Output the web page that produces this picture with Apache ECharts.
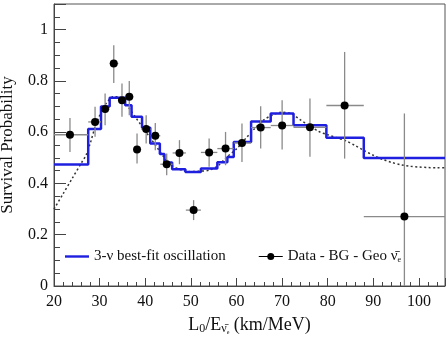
<!DOCTYPE html>
<html>
<head>
    <meta charset="utf-8">
    <title></title>
    <script src="https://cdn.jsdelivr.net/npm/echarts/dist/echarts.min.js"></script>
    <style>
        html, body { margin: 0; padding: 0; background: #fff; }
        #main { width: 448px; height: 338px; }
    </style>
</head>
<body>
<div id="main"></div>
<script type="text/javascript">
    // best-fit oscillation, binned: left edge of each bin and its level
    var fitEdges = [20, 27.5, 30.3, 32.2, 35.6, 37.0, 39.3, 41.1, 43.2, 44.2, 45.9, 48.8, 52.2, 55.8, 58.0, 59.4, 63.2, 67.5, 72.5, 79.7, 87.9, 105.7];
    var fitLevels = [0.474, 0.612, 0.700, 0.734, 0.705, 0.660, 0.617, 0.556, 0.515, 0.482, 0.455, 0.445, 0.458, 0.483, 0.503, 0.562, 0.642, 0.673, 0.627, 0.578, 0.499];

    // unbinned curve (dotted)
    var curveX = [20, 22, 24, 26, 27, 28, 29, 30, 31, 32, 33, 34, 35, 36, 37, 38, 39, 40, 41, 42, 43, 44, 45, 46, 48, 50, 52, 54, 56, 58, 60, 62, 64, 66, 68, 70, 72, 74, 76, 78, 80, 82, 84, 86, 88, 90, 92, 94, 96, 98, 100, 102, 104, 105.7];
    var curveY = [0.300, 0.360, 0.420, 0.480, 0.510, 0.560, 0.620, 0.665, 0.700, 0.725, 0.738, 0.738, 0.725, 0.705, 0.680, 0.655, 0.630, 0.605, 0.580, 0.555, 0.530, 0.505, 0.485, 0.468, 0.452, 0.446, 0.448, 0.452, 0.470, 0.505, 0.535, 0.575, 0.615, 0.648, 0.668, 0.678, 0.672, 0.648, 0.625, 0.603, 0.590, 0.578, 0.566, 0.548, 0.528, 0.510, 0.494, 0.482, 0.473, 0.467, 0.464, 0.462, 0.461, 0.461];

    // Data - BG - Geo
    var dataX = [23.5, 29.0, 31.2, 33.1, 34.9, 36.5, 38.2, 40.2, 42.2, 44.7, 47.5, 50.6, 54.0, 57.6, 61.2, 65.3, 70.0, 76.1, 83.7, 96.8];
    var dataY = [0.590, 0.640, 0.690, 0.868, 0.725, 0.738, 0.532, 0.612, 0.586, 0.475, 0.519, 0.296, 0.521, 0.536, 0.558, 0.618, 0.626, 0.619, 0.704, 0.271];
    var binLo = [20, 27.5, 30.3, 32.2, 34.1, 35.6, 37.4, 39.1, 41.2, 43.3, 46.0, 48.9, 52.2, 55.8, 59.4, 63.2, 67.5, 72.5, 79.7, 87.9];
    var binHi = [27.5, 30.3, 32.2, 34.1, 35.6, 37.4, 39.1, 41.2, 43.3, 46.0, 48.9, 52.2, 55.8, 59.4, 63.2, 67.5, 72.5, 79.7, 87.9, 106];
    var errLo = [0.523, 0.582, 0.627, 0.792, 0.660, 0.666, 0.478, 0.556, 0.530, 0.432, 0.475, 0.257, 0.465, 0.471, 0.484, 0.536, 0.532, 0.504, 0.497, 0.0];
    var errHi = [0.655, 0.699, 0.751, 0.939, 0.790, 0.800, 0.595, 0.666, 0.636, 0.517, 0.569, 0.335, 0.575, 0.601, 0.634, 0.701, 0.725, 0.731, 0.913, 0.673];

    var fitData = [];
    for (var i = 0; i < fitLevels.length; i++) {
        fitData.push([fitEdges[i], fitLevels[i]]);
    }
    fitData.push([fitEdges[fitEdges.length - 1], fitLevels[fitLevels.length - 1]]);

    var curveData = [];
    for (var i = 0; i < curveX.length; i++) {
        curveData.push([curveX[i], curveY[i]]);
    }

    var pts = [];
    var bars = [];
    for (var i = 0; i < dataX.length; i++) {
        pts.push([dataX[i], dataY[i]]);
        bars.push([dataX[i], dataY[i], binLo[i], binHi[i], errLo[i], errHi[i]]);
    }

    var serif = 'Liberation Serif';
    var chart = echarts.init(document.getElementById('main'));
    var option = {
        backgroundColor: '#fff',
        animation: false,
        grid: {
            left: 54, right: 3, top: 4, bottom: 52,
            outerBoundsMode: 'none', containLabel: false,
            show: true, borderColor: '#555', borderWidth: 1
        },
        legend: {
            left: 60, top: 244,
            itemWidth: 24, itemHeight: 8, itemGap: 33,
            data: [
                {name: 'fit', icon: 'path://M0,0M24,8M0,2.8h24v2.4h-24z'},
                {name: 'data', icon: 'path://M0,0M24,8M0,3.5h24v1h-24zM12,4m-3.5,0a3.5,3.5 0 1,1 7,0a3.5,3.5 0 1,1 -7,0z'}
            ],
            formatter: function (name) {
                return name === 'fit' ? '3-\u03bd best-fit oscillation' : 'Data - BG - Geo \u03bd\u0304{sub|e}';
            },
            textStyle: {
                fontFamily: serif, fontSize: 15, color: '#111',
                rich: {sub: {fontFamily: serif, fontSize: 8, color: '#111', verticalAlign: 'bottom', padding: [6, 0, 0, 0]}}
            }
        },
        xAxis: {
            type: 'value', min: 20, max: 105.7, interval: 10,
            name: 'L{sub|0}/E{sub|\u03bd\u0304}{subsub|e} (km/MeV)',
            nameLocation: 'middle', nameGap: 29,
            nameTextStyle: {
                fontFamily: serif, fontSize: 18, color: '#111',
                rich: {
                    sub: {fontFamily: serif, fontSize: 12, color: '#111', verticalAlign: 'bottom', padding: [8, 0, 0, 0]},
                    subsub: {fontFamily: serif, fontSize: 6, color: '#111', verticalAlign: 'bottom', padding: [12, 0, 0, 0]}
                }
            },
            axisLine: {lineStyle: {color: '#444', width: 1}},
            axisTick: {inside: true, length: 8, lineStyle: {color: '#444'}},
            minorTick: {show: true, splitNumber: 5, length: 4, lineStyle: {color: '#444'}},
            splitLine: {show: false},
            axisLabel: {
                fontFamily: serif, fontSize: 16, color: '#111', margin: 8,
                formatter: function (v) { return v > 100.5 ? '' : String(v); }
            }
        },
        yAxis: {
            type: 'value', min: 0, max: 1.1, interval: 0.2,
            name: 'Survival Probability',
            nameLocation: 'middle', nameGap: 38, nameRotate: 90,
            nameTextStyle: {fontFamily: serif, fontSize: 17, color: '#111'},
            axisLine: {show: true, lineStyle: {color: '#444', width: 1}},
            axisTick: {inside: true, length: 12, lineStyle: {color: '#444'}},
            minorTick: {show: true, splitNumber: 4, length: 6, lineStyle: {color: '#444'}},
            splitLine: {show: false},
            axisLabel: {
                fontFamily: serif, fontSize: 16, color: '#111', margin: 6,
                formatter: function (v) { return v > 1.05 ? '' : String(+v.toFixed(1)); }
            }
        },
        series: [
            {
                name: 'curve', type: 'line', data: curveData, smooth: 0.3,
                showSymbol: false, clip: true, z: 1,
                lineStyle: {color: '#333', width: 1.5, type: [2, 2.5]}
            },
            {
                name: 'fit', type: 'line', step: 'end', data: fitData,
                showSymbol: false, clip: true, z: 2,
                itemStyle: {color: '#1f1fe0'},
                lineStyle: {color: '#1f1fe0', width: 2.5}
            },
            {
                name: 'errs', type: 'custom', data: bars, clip: true, z: 3,
                encode: {x: 0, y: 1},
                renderItem: function (params, api) {
                    var l = api.coord([api.value(2), api.value(1)]);
                    var r = api.coord([api.value(3), api.value(1)]);
                    var b = api.coord([api.value(0), api.value(4)]);
                    var t = api.coord([api.value(0), api.value(5)]);
                    return {
                        type: 'group',
                        children: [
                            {type: 'line', shape: {x1: l[0], y1: l[1], x2: r[0], y2: r[1]}, style: {stroke: '#8a8a8a', lineWidth: 1.3}},
                            {type: 'line', shape: {x1: t[0], y1: t[1], x2: b[0], y2: b[1]}, style: {stroke: '#8a8a8a', lineWidth: 1.3}}
                        ]
                    };
                }
            },
            {
                name: 'data', type: 'scatter', data: pts, symbol: 'circle', symbolSize: 8,
                z: 4, itemStyle: {color: '#000', opacity: 1}
            }
        ]
    };
    chart.setOption(option);
</script>
</body>
</html>
